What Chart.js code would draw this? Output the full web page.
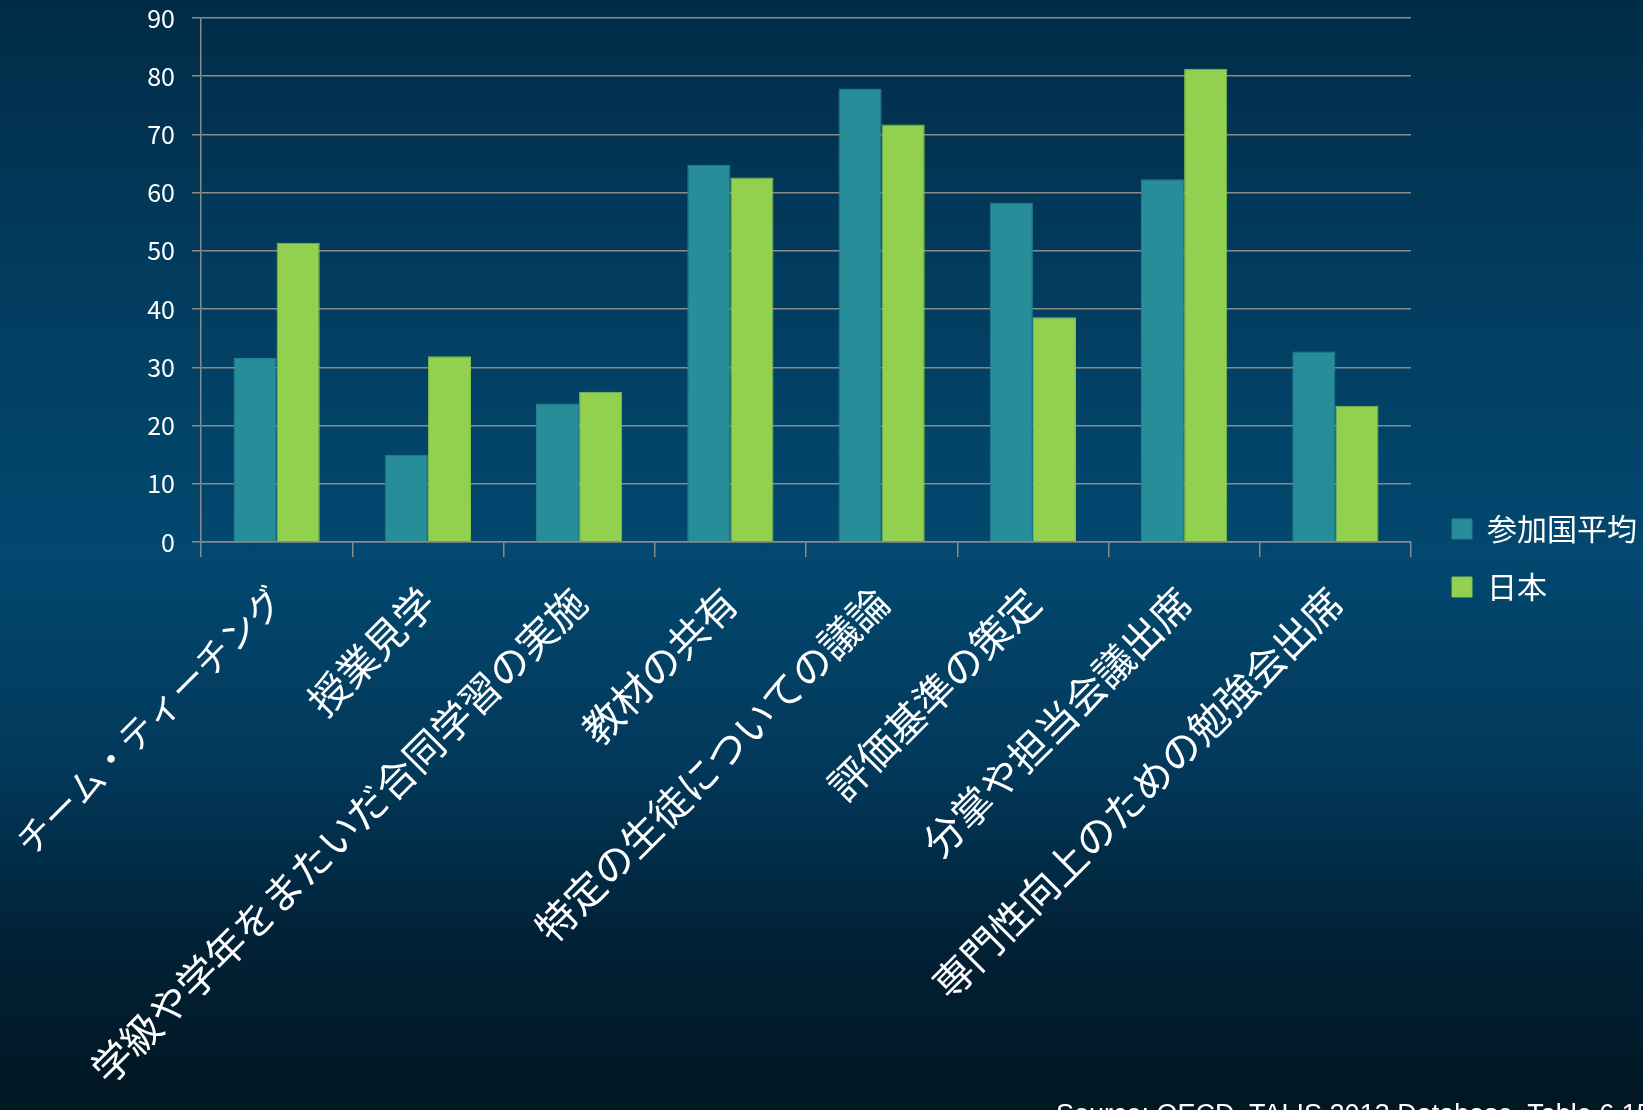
<!DOCTYPE html>
<html>
<head>
<meta charset="utf-8">
<script src="https://cdn.jsdelivr.net/npm/chart.js@4.4.0/dist/chart.umd.min.js"></script>
<style>
  html, body { margin: 0; padding: 0; overflow: hidden; }
  body {
    width: 1643px; height: 1110px; position: relative;
    background: linear-gradient(to bottom, #012c47 0%, #023f63 30%, #03486f 50%, #023a5c 68%, #012136 85%, #011722 100%);
  }
  #chartBox { position: absolute; left: 0; top: 0; width: 1643px; height: 1110px; }
  #source {
    position: absolute; left: 1056px; top: 1101px;
    font: 27px "Liberation Sans", Arial, sans-serif; line-height: 27px;
    color: #ffffff; white-space: nowrap;
  }
</style>
</head>
<body>
<div id="chartBox"><canvas id="myChart" width="1643" height="1110"></canvas></div>
<div id="source">Source: OECD, TALIS 2013 Database, Table 6.15</div>
<script>
// categories along the x axis
const categories = [
  'チーム・ティーチング',
  '授業見学',
  '学級や学年をまたいだ合同学習の実施',
  '教材の共有',
  '特定の生徒についての議論',
  '評価基準の策定',
  '分掌や担当会議出席',
  '専門性向上のための勉強会出席'
];

// series values (percent)
const avgValues = [31.6, 15.0, 23.8, 64.8, 77.9, 58.3, 62.3, 32.7];
const japanValues = [51.4, 31.9, 25.8, 62.6, 71.7, 38.6, 81.3, 23.4];

// series names
const seriesNames = ['参加国平均', '日本'];

// y axis ticks
const yMin = 0;
const yMax = 90;
const yStep = 10;

const gridColor = '#8a8a8a';
const jpFont = '"Noto Sans CJK JP", "Noto Sans", sans-serif';

// fixes legend width and nudges it so the plot ends where the original does
const legendFix = {
  id: 'legendFix',
  beforeInit(chart) {
    const lg = chart.legend;
    if (!lg) return;
    const fit = lg.fit;
    lg.fit = function () {
      fit.call(this);
      this.width = 232;
    };
  },
  afterLayout(chart) {
    if (chart.legend) {
      chart.legend.left += 13;
      chart.legend.right += 13;
      chart.legend.top -= 6;
      chart.legend.bottom -= 6;
    }
  }
};

const ctx = document.getElementById('myChart').getContext('2d');

new Chart(ctx, {
  type: 'bar',
  data: {
    labels: categories,
    datasets: [
      {
        label: seriesNames[0],
        data: avgValues,
        backgroundColor: '#278e99',
        borderColor: '#267f90',
        borderWidth: 1,
        categoryPercentage: 0.57,
        barPercentage: 1.0
      },
      {
        label: seriesNames[1],
        data: japanValues,
        backgroundColor: '#92d050',
        borderColor: '#86c24c',
        borderWidth: 1,
        categoryPercentage: 0.57,
        barPercentage: 1.0
      }
    ]
  },
  options: {
    responsive: false,
    maintainAspectRatio: false,
    animation: false,
    layout: { padding: { top: 18, left: 0, right: 0, bottom: 0 } },
    plugins: {
      legend: {
        position: 'right',
        labels: {
          color: '#ffffff',
          font: { family: jpFont, size: 30 },
          boxWidth: 20,
          boxHeight: 20,
          padding: 28
        }
      },
      tooltip: { enabled: false }
    },
    scales: {
      x: {
        grid: {
          display: true,
          offset: true,
          drawOnChartArea: false,
          drawTicks: true,
          tickLength: 15,
          color: gridColor,
          lineWidth: 1.5
        },
        border: { display: true, color: gridColor, width: 1.5 },
        ticks: {
          color: '#ffffff',
          // the katakana label is set a bit smaller so it fits like the original
          font: (c) => ({ family: jpFont, size: c.index === 0 ? 36 : 40 }),
          maxRotation: 45,
          minRotation: 45,
          autoSkip: false,
          padding: 21
        },
        afterFit(scale) {
          scale.height = 568;
          scale.paddingLeft = 0;
          scale.paddingRight = 0;
        }
      },
      y: {
        min: yMin,
        max: yMax,
        ticks: {
          stepSize: yStep,
          color: '#ffffff',
          font: { family: jpFont, size: 25 },
          padding: 17
        },
        grid: {
          color: gridColor,
          lineWidth: 1.5,
          tickLength: 9
        },
        border: { display: true, color: gridColor, width: 1.5 },
        afterFit(scale) {
          scale.width = 201;
          scale.paddingTop = 0;
          scale.paddingBottom = 0;
        }
      }
    }
  },
  plugins: [legendFix]
});
</script>
</body>
</html>
